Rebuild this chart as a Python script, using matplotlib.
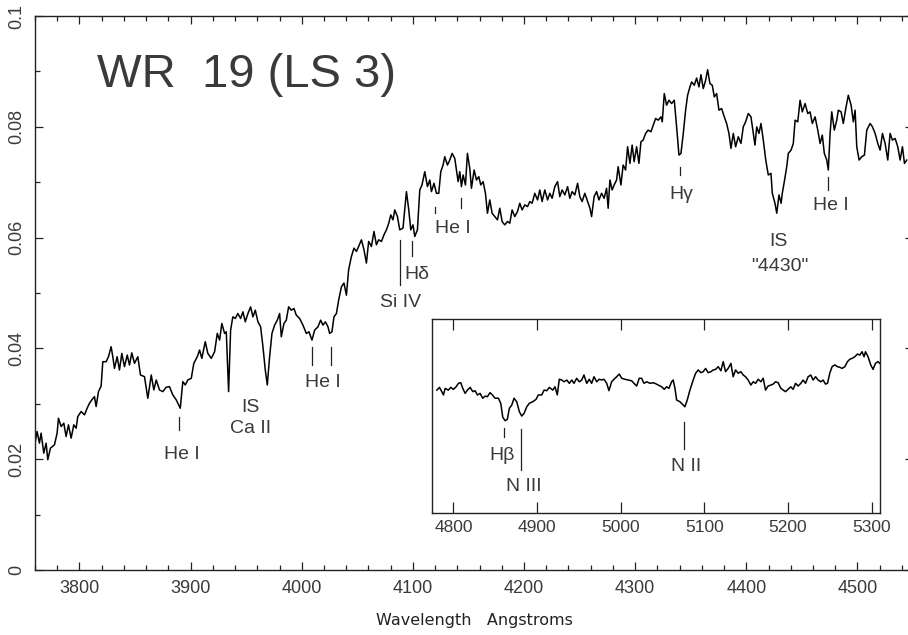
import numpy as np
import matplotlib
matplotlib.use("Agg")
import matplotlib.pyplot as plt
from matplotlib.ticker import MultipleLocator

plt.rcParams['font.family'] = ['Liberation Sans', 'DejaVu Sans']

# main spectrum, 3760-4550 A
main_wave = [
    3759.5, 3761.9, 3764.0, 3765.5, 3767.9, 3770.0, 3771.5, 3773.9, 3777.5, 3779.9,
    3781.1, 3783.5, 3785.9, 3788.0, 3790.1, 3792.5, 3794.9, 3797.0, 3798.5, 3801.5,
    3804.5, 3806.9, 3809.0, 3811.1, 3813.5, 3815.0, 3817.1, 3819.5, 3821.0, 3824.0,
    3826.1, 3828.5, 3830.0, 3831.5, 3833.9, 3836.0, 3838.1, 3840.5, 3843.0, 3845.0,
    3847.1, 3849.5, 3852.5, 3854.9, 3858.5, 3861.5, 3864.6, 3866.9, 3869.1, 3872.0,
    3875.0, 3878.1, 3881.0, 3884.0, 3887.1, 3890.7, 3893.0, 3895.2, 3897.5, 3900.6,
    3902.9, 3906.0, 3908.1, 3910.1, 3913.2, 3915.5, 3918.6, 3921.6,
    3924.0, 3926.1, 3928.1, 3930.6, 3932.1, 3934.2, 3936.0, 3938.0, 3940.2, 3942.5,
    3945.0, 3947.1, 3949.2, 3951.6, 3954.0, 3956.1, 3958.2, 3960.6, 3963.0, 3965.1,
    3967.2, 3969.0, 3971.1, 3973.2, 3975.6, 3978.0, 3980.1, 3981.6, 3984.0, 3986.1,
    3988.2, 3990.6, 3993.0, 3995.1, 3998.1, 4001.1, 4004.1, 4006.5, 4009.2, 4011.6,
    4014.6, 4017.0, 4019.1, 4021.3, 4023.6, 4025.1, 4027.2, 4029.0, 4031.2, 4033.2,
    4035.7, 4038.0, 4040.2, 4042.2, 4044.7, 4047.0, 4049.2, 4051.2, 4053.7, 4056.0,
    4058.2, 4060.2, 4062.7, 4065.0, 4067.2, 4069.2, 4071.7, 4074.0, 4076.2, 4078.3,
    4080.1, 4082.1, 4083.7,
    4086.1, 4088.2, 4091.1, 4094.2, 4096.3, 4098.1, 4100.1, 4101.7, 4104.1, 4106.2,
    4108.2, 4110.7, 4113.1, 4115.2, 4116.7, 4119.0, 4121.2, 4123.3, 4125.1, 4127.2,
    4128.7, 4131.1, 4133.2, 4135.3, 4137.7, 4139.2, 4140.7, 4142.2, 4143.7, 4145.2,
    4147.3, 4149.1, 4151.2, 4152.7, 4155.1, 4157.2, 4159.3, 4161.1, 4163.2, 4165.3,
    4167.1, 4169.2, 4171.3, 4173.7, 4176.1, 4178.2, 4180.3, 4182.7, 4185.1, 4187.2,
    4189.3, 4191.7, 4194.1, 4196.2, 4198.3, 4200.7, 4203.2, 4205.2, 4207.3, 4209.7,
    4212.2, 4214.2, 4216.3, 4218.7, 4221.2, 4223.2, 4225.3, 4227.7, 4230.2, 4232.2,
    4234.3, 4236.7, 4239.2, 4241.2, 4243.3, 4245.7,
    4248.2, 4250.2, 4252.3, 4254.7, 4257.2, 4259.3, 4260.8, 4263.1, 4265.3, 4267.4,
    4269.8, 4272.1, 4274.3, 4275.7, 4277.3, 4279.3, 4281.1, 4283.3, 4284.7, 4287.2,
    4289.2, 4291.4, 4293.2, 4295.3, 4297.3, 4299.1, 4301.3, 4303.4, 4305.2, 4307.2,
    4309.4, 4311.7, 4314.2, 4316.3, 4318.4, 4320.8, 4323.2, 4324.4, 4326.2, 4328.3,
    4330.4, 4332.8, 4335.2, 4337.3, 4339.4, 4341.2, 4343.3, 4345.4, 4347.2, 4349.3,
    4350.8, 4353.2, 4355.3, 4357.4, 4359.2, 4361.3, 4363.4, 4365.2, 4367.3, 4369.4,
    4371.2, 4373.3, 4375.4, 4377.8, 4380.2, 4382.3, 4384.4, 4386.2, 4388.3, 4390.4,
    4392.8, 4395.2, 4397.3, 4399.4, 4401.8, 4404.2, 4406.3, 4407.8,
    4409.4, 4411.4, 4413.2, 4415.3, 4417.5, 4419.8, 4422.2, 4423.4, 4425.8, 4427.4,
    4429.4, 4431.3, 4432.4, 4434.2, 4436.4, 4437.8, 4440.3, 4442.3, 4443.9, 4446.3,
    4448.4, 4450.4, 4452.9, 4455.3, 4457.4, 4459.4, 4461.9, 4464.3, 4466.4, 4468.4,
    4470.2, 4472.4, 4473.8, 4475.4, 4476.9, 4479.2, 4481.4, 4482.8, 4485.3, 4487.3,
    4489.5, 4491.8, 4494.3, 4496.3, 4497.9, 4499.4, 4501.5, 4503.9, 4506.3, 4508.4,
    4511.4, 4513.5, 4515.9, 4518.3, 4520.4, 4522.5, 4524.9, 4527.3, 4529.4, 4531.5,
    4533.9, 4536.3, 4538.4, 4540.5, 4542.3, 4544.4,
]
main_flux = [
    0.0223, 0.0250, 0.0229, 0.0247, 0.0211, 0.0229, 0.0199, 0.0220, 0.0226, 0.0247,
    0.0274, 0.0259, 0.0265, 0.0241, 0.0262, 0.0238, 0.0262, 0.0256, 0.0277, 0.0286,
    0.0280, 0.0292, 0.0301, 0.0307, 0.0313, 0.0295, 0.0322, 0.0332, 0.0376, 0.0376,
    0.0385, 0.0403, 0.0385, 0.0364, 0.0385, 0.0361, 0.0391, 0.0367, 0.0388, 0.0370,
    0.0392, 0.0373, 0.0385, 0.0352, 0.0349, 0.0310, 0.0352, 0.0325, 0.0343, 0.0325,
    0.0322, 0.0330, 0.0331, 0.0316, 0.0307, 0.0292, 0.0340, 0.0334, 0.0343, 0.0346,
    0.0373, 0.0385, 0.0397, 0.0382, 0.0412, 0.0391, 0.0382, 0.0394,
    0.0427, 0.0415, 0.0445, 0.0427, 0.0430, 0.0322, 0.0433, 0.0457, 0.0454, 0.0463,
    0.0454, 0.0466, 0.0448, 0.0463, 0.0475, 0.0457, 0.0469, 0.0448, 0.0439, 0.0403,
    0.0361, 0.0334, 0.0385, 0.0427, 0.0442, 0.0451, 0.0463, 0.0421, 0.0445, 0.0451,
    0.0475, 0.0469, 0.0472, 0.0460, 0.0454, 0.0442, 0.0427, 0.0430, 0.0415, 0.0433,
    0.0439, 0.0451, 0.0442, 0.0448, 0.0439, 0.0427, 0.0430, 0.0457, 0.0463, 0.0487,
    0.0511, 0.0518, 0.0496, 0.0542, 0.0566, 0.0581, 0.0575, 0.0584, 0.0596, 0.0578,
    0.0554, 0.0593, 0.0584, 0.0611, 0.0587, 0.0596, 0.0593, 0.0605, 0.0614, 0.0626,
    0.0641, 0.0632, 0.0650,
    0.0638, 0.0614, 0.0617, 0.0683, 0.0650, 0.0614, 0.0623, 0.0602, 0.0614, 0.0686,
    0.0695, 0.0719, 0.0692, 0.0704, 0.0683, 0.0698, 0.0680, 0.0680, 0.0719, 0.0731,
    0.0746, 0.0731, 0.0740, 0.0752, 0.0743, 0.0722, 0.0701, 0.0719, 0.0692, 0.0713,
    0.0695, 0.0752, 0.0725, 0.0689, 0.0722, 0.0704, 0.0710, 0.0695, 0.0701, 0.0680,
    0.0644, 0.0668, 0.0644, 0.0638, 0.0632, 0.0653, 0.0629, 0.0623, 0.0629, 0.0626,
    0.0650, 0.0638, 0.0647, 0.0662, 0.0650, 0.0659, 0.0656, 0.0665, 0.0662, 0.0680,
    0.0668, 0.0686, 0.0665, 0.0686, 0.0668, 0.0680, 0.0671, 0.0692, 0.0701, 0.0674,
    0.0686, 0.0677, 0.0692, 0.0671, 0.0683, 0.0677,
    0.0698, 0.0674, 0.0665, 0.0680, 0.0665, 0.0653, 0.0638, 0.0674, 0.0683, 0.0668,
    0.0680, 0.0671, 0.0689, 0.0653, 0.0704, 0.0686, 0.0695, 0.0704, 0.0728, 0.0695,
    0.0731, 0.0722, 0.0764, 0.0734, 0.0767, 0.0737, 0.0764, 0.0734, 0.0773, 0.0776,
    0.0788, 0.0794, 0.0791, 0.0803, 0.0815, 0.0812, 0.0818, 0.0809, 0.0860, 0.0839,
    0.0848, 0.0842, 0.0848, 0.0800, 0.0749, 0.0752, 0.0788, 0.0830, 0.0857, 0.0872,
    0.0881, 0.0875, 0.0888, 0.0872, 0.0894, 0.0869, 0.0884, 0.0903, 0.0878, 0.0875,
    0.0854, 0.0860, 0.0830, 0.0833, 0.0818, 0.0806, 0.0788, 0.0761, 0.0788, 0.0764,
    0.0782, 0.0770, 0.0800, 0.0809, 0.0824, 0.0818, 0.0788, 0.0767,
    0.0800, 0.0788, 0.0806, 0.0776, 0.0740, 0.0713, 0.0716, 0.0680, 0.0662, 0.0644,
    0.0677, 0.0662, 0.0680, 0.0701, 0.0728, 0.0752, 0.0758, 0.0770, 0.0812, 0.0809,
    0.0848, 0.0827, 0.0842, 0.0824, 0.0827, 0.0806, 0.0818, 0.0794, 0.0770, 0.0785,
    0.0752, 0.0740, 0.0722, 0.0788, 0.0827, 0.0794, 0.0812, 0.0830, 0.0827, 0.0806,
    0.0833, 0.0857, 0.0839, 0.0809, 0.0830, 0.0764, 0.0740, 0.0746, 0.0749, 0.0794,
    0.0806, 0.0800, 0.0788, 0.0770, 0.0758, 0.0788, 0.0770, 0.0740, 0.0788, 0.0776,
    0.0779, 0.0764, 0.0740, 0.0764, 0.0734, 0.0740,
]

# inset spectrum, 4780-5310 A, relative flux
inset_wave = [
    4780.2, 4783.3, 4786.1, 4788.1, 4790.1, 4794.0, 4796.9, 4800.0, 4803.2, 4806.0,
    4808.8, 4811.2, 4814.0, 4816.7, 4820.0, 4823.2, 4825.9, 4828.7, 4831.9, 4835.1,
    4837.9, 4840.6, 4843.8, 4846.6, 4849.8, 4853.8, 4856.6, 4859.0, 4861.8, 4864.5,
    4866.9, 4869.8, 4872.5, 4875.7, 4878.9, 4881.7, 4884.5, 4887.7, 4890.8, 4894.9,
    4898.8, 4901.5, 4905.6, 4908.4, 4911.6, 4914.7, 4918.8, 4921.5, 4924.2, 4926.6,
    4929.5, 4932.3, 4935.5, 4938.6, 4941.5, 4944.2, 4947.4, 4950.5, 4953.4, 4956.1,
    4959.4, 4962.5, 4965.3, 4968.1, 4971.3, 4974.4, 4977.3, 4980.0, 4983.3, 4986.0,
    4989.2, 4992.0, 4995.2, 4998.3, 5001.2, 5005.1, 5009.1, 5013.1, 5015.9, 5019.1,
    5022.2, 5025.1, 5027.8, 5031.1, 5035.0, 5038.9,
    5041.0, 5044.9, 5049.0, 5052.1,
    5054.9, 5057.7, 5060.9, 5062.8, 5064.9, 5066.9, 5070.8, 5074.8, 5076.8, 5079.6,
    5082.8, 5086.7, 5089.6, 5092.7, 5095.9, 5098.7, 5101.5, 5104.6, 5107.9, 5110.6,
    5113.5, 5116.6, 5119.8, 5122.6, 5125.4, 5128.5, 5131.8, 5134.5, 5137.4, 5140.5,
    5143.7, 5146.5, 5149.3, 5152.4, 5155.7, 5158.4, 5161.3, 5164.4, 5167.6, 5170.4,
    5173.2, 5176.3, 5179.6, 5182.3, 5185.2, 5188.3, 5191.5, 5194.3, 5197.1, 5200.2,
    5203.4, 5206.2, 5209.1, 5212.2, 5215.4, 5218.1, 5221.0, 5224.1, 5227.3, 5230.1,
    5233.0, 5236.1, 5239.3, 5242.0, 5244.9, 5247.3, 5250.0, 5252.8, 5256.0, 5259.2,
    5262.0, 5264.7, 5268.0, 5271.2, 5273.9, 5276.7, 5279.9, 5283.1, 5285.9, 5288.6,
    5291.0, 5292.7, 5295.8, 5299.0, 5301.8, 5304.6, 5307.7, 5309.8,
]
inset_flux = [
    0.633, 0.647, 0.625, 0.608, 0.642, 0.633, 0.647, 0.637, 0.650, 0.668,
    0.671, 0.642, 0.616, 0.633, 0.647, 0.625, 0.630, 0.608, 0.616, 0.591,
    0.602, 0.599, 0.620, 0.608, 0.591, 0.591, 0.565, 0.493, 0.475, 0.482,
    0.539, 0.556, 0.591, 0.573, 0.521, 0.499, 0.513, 0.547, 0.565, 0.573,
    0.585, 0.608, 0.608, 0.633, 0.630, 0.647, 0.633, 0.650, 0.608, 0.689,
    0.685, 0.676, 0.685, 0.668, 0.685, 0.668, 0.694, 0.676, 0.685, 0.711,
    0.668, 0.689, 0.668, 0.702, 0.676, 0.689, 0.685, 0.689, 0.668, 0.630,
    0.676, 0.689, 0.702, 0.716, 0.694, 0.689, 0.685, 0.681, 0.668, 0.654,
    0.694, 0.694, 0.668, 0.676, 0.668, 0.671,
    0.668, 0.659, 0.650, 0.637,
    0.650, 0.642, 0.676, 0.685, 0.642, 0.582, 0.573, 0.556, 0.547, 0.582,
    0.633, 0.685, 0.720, 0.737, 0.723, 0.728, 0.745, 0.723, 0.728, 0.737,
    0.740, 0.754, 0.733, 0.780, 0.728, 0.745, 0.771, 0.702, 0.737, 0.720,
    0.728, 0.711, 0.702, 0.685, 0.659, 0.676, 0.668, 0.689, 0.676, 0.694,
    0.633, 0.654, 0.659, 0.664, 0.676, 0.671, 0.642, 0.633, 0.625, 0.637,
    0.650, 0.637, 0.668, 0.654, 0.668, 0.685, 0.668, 0.702, 0.711, 0.685,
    0.702, 0.685, 0.676, 0.685, 0.664, 0.668, 0.720, 0.754, 0.763, 0.754,
    0.751, 0.745, 0.754, 0.780, 0.792, 0.797, 0.805, 0.819, 0.814, 0.831,
    0.805, 0.831, 0.805, 0.763, 0.740, 0.771, 0.780, 0.771,
]

# line identifications: (wavelength, tick bottom, tick top)
main_marks = [
    (3890.0, 0.0253, 0.0277),
    (4009.5, 0.0370, 0.0403),
    (4025.9, 0.0370, 0.0403),
    (4088.2, 0.0514, 0.0596),
    (4099.6, 0.0566, 0.0593),
    (4120.2, 0.0644, 0.0656),
    (4143.1, 0.0653, 0.0671),
    (4340.3, 0.0713, 0.0728),
    (4473.8, 0.0686, 0.0710),
]
# (text, wavelength of text centre, baseline flux)
main_labels = [
    ("He I", 3892.3, 0.0200),
    ("IS", 3953.7, 0.0286),
    ("Ca II", 3953.7, 0.0247),
    ("He I", 4018.6, 0.0330),
    ("H\u03b4", 4104.0, 0.0525),
    ("Si IV", 4088.6, 0.0475),
    ("He I", 4135.9, 0.0609),
    ("H\u03b3", 4341.5, 0.0670),
    ("IS", 4428.8, 0.0584),
    ('"4430"', 4430.0, 0.0540),
    ("He I", 4476.4, 0.0650),
]
inset_marks = [
    (4860.6, 0.392, 0.436),
    (4881.2, 0.220, 0.431),
    (5076.0, 0.329, 0.470),
]
inset_labels = [
    ("H\u03b2", 4857.8, 0.272),
    ("N III", 4884.2, 0.112),
    ("N II", 5077.8, 0.215),
]

text_col = '#3a3a3a'

fig = plt.figure(figsize=(9.08, 6.35), dpi=100)
ax = fig.add_axes([0.03855, 0.10236, 0.96696, 0.87244])
ax.plot(main_wave, main_flux, color='black', lw=1.1)
ax.set_xlim(3760, 4550)
ax.set_ylim(0, 0.1)

ax.xaxis.set_major_locator(MultipleLocator(100))
ax.xaxis.set_minor_locator(MultipleLocator(20))
ax.set_yticks([0, 0.02, 0.04, 0.06, 0.08, 0.1])
ax.set_yticklabels(["0", "0.02", "0.04", "0.06", "0.08", "0.1"], rotation=90, va='center')
ax.yaxis.set_minor_locator(MultipleLocator(0.01))
ax.tick_params(which='both', direction='in', top=True, right=True,
               width=0.9, color='#222222', labelsize=13, labelcolor=text_col)
ax.tick_params(which='major', length=6)
ax.tick_params(which='minor', length=3.5)
ax.tick_params(axis='x', pad=7)
ax.tick_params(axis='y', pad=7)
for s in ax.spines.values():
    s.set_linewidth(1.0)
    s.set_color('#222222')

ax.set_xlabel("Wavelength   Angstroms", family='DejaVu Sans', fontsize=11.5,
              color='#222222', va='center')
ax.xaxis.set_label_coords(0.5, -0.0903)

ax.text(0.0703, 0.871, "WR  19 (LS 3)", transform=ax.transAxes, fontsize=34,
        color=text_col, ha='left', va='baseline')

for wl, lo, hi in main_marks:
    ax.plot([wl, wl], [lo, hi], color='#222222', lw=0.9)
for txt, wl, y in main_labels:
    ax.text(wl, y, txt, fontsize=14, color=text_col, ha='center', va='baseline')

# inset
axi = fig.add_axes([0.4754, 0.1926, 0.4937, 0.3050])
axi.plot(inset_wave, inset_flux, color='black', lw=1.1)
axi.set_xlim(4774, 5310)
axi.set_ylim(0, 1)
axi.xaxis.set_major_locator(MultipleLocator(100))
axi.set_yticks([])
axi.tick_params(axis='x', direction='in', top=True, length=8, width=0.9,
                color='#222222', labelsize=12.5, labelcolor=text_col, pad=5)
for s in axi.spines.values():
    s.set_linewidth(1.0)
    s.set_color('#222222')
for wl, lo, hi in inset_marks:
    axi.plot([wl, wl], [lo, hi], color='#222222', lw=0.9)
for txt, wl, y in inset_labels:
    axi.text(wl, y, txt, fontsize=14, color=text_col, ha='center', va='baseline')

fig.savefig("out.png", dpi=100)
